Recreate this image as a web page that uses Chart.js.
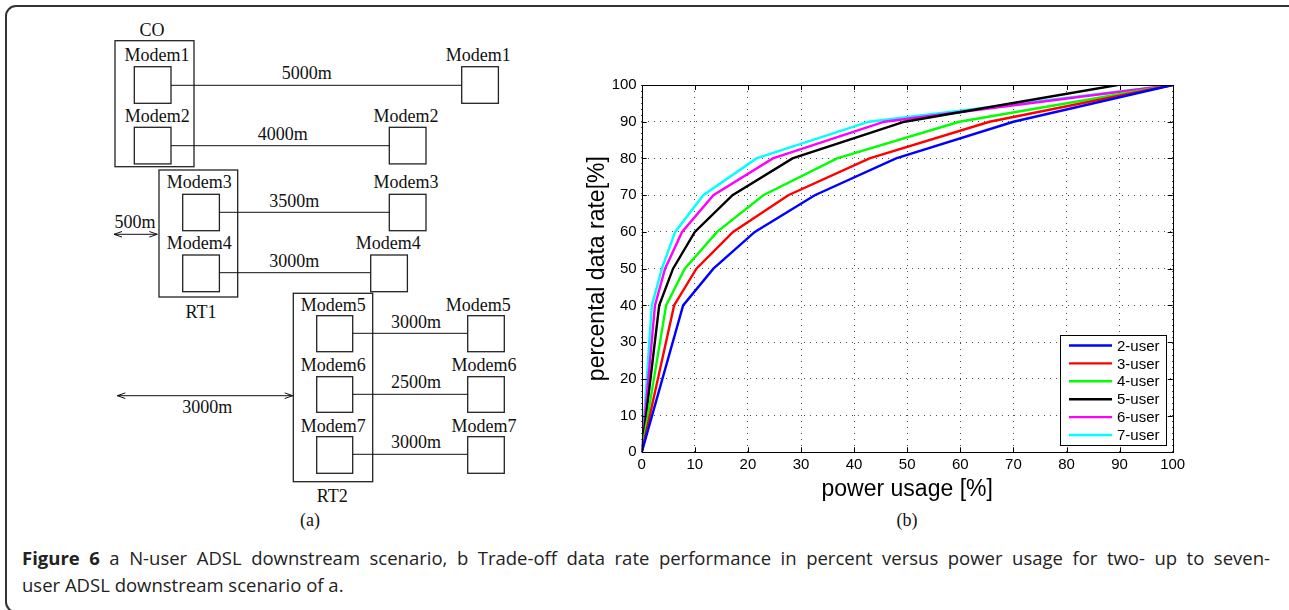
<!DOCTYPE html>
<html><head><meta charset="utf-8">
<script src="https://cdn.jsdelivr.net/npm/chart.js@4.4.1/dist/chart.umd.min.js"></script>
<style>
html,body{margin:0;padding:0;background:#fff;width:1289px;height:610px;overflow:hidden;}
body{position:relative;}
#frame{position:absolute;left:5px;top:5px;width:1400px;height:604px;border:2px solid #333;border-radius:11px;box-sizing:content-box;}
#diagram{position:absolute;left:0;top:0;}
#chartBox{position:absolute;left:560px;top:70px;width:630px;height:433px;}
.sub{position:absolute;font-family:"Liberation Serif","Times New Roman",serif;font-size:18px;color:#111;transform:translateX(-50%);}
.cap{position:absolute;left:22px;width:1248px;font-family:"Open Sans","Noto Sans",sans-serif;font-size:18.5px;line-height:27px;color:#222;white-space:nowrap;}
#cap1{top:544px;text-align:justify;text-align-last:justify;white-space:normal;}
#cap2{top:571px;}
</style>
</head><body>
<div id="frame"></div>
<svg id="diagram" width="560" height="540" xmlns="http://www.w3.org/2000/svg" font-family="Liberation Serif, Times New Roman, serif" font-size="18" fill="#111">
 <g fill="none" stroke="#222" stroke-width="1.3">
  <rect x="115" y="40.7" width="79" height="126"/>
  <rect x="134.3" y="66.7" width="36.7" height="36.6"/>
  <rect x="461.7" y="66.7" width="36.7" height="36.6"/>
  <rect x="134.3" y="127.3" width="36.7" height="36.6"/>
  <rect x="389.3" y="127.3" width="36.7" height="36.6"/>
  <rect x="159" y="170" width="78.7" height="127"/>
  <rect x="182.7" y="194.3" width="36.7" height="36.4"/>
  <rect x="389.3" y="194.3" width="36.7" height="36.4"/>
  <rect x="182.7" y="255" width="36.7" height="36.7"/>
  <rect x="370.7" y="255" width="36.7" height="36.7"/>
  <rect x="293.3" y="293.3" width="79.4" height="188.4"/>
  <rect x="316.7" y="315.7" width="36" height="36"/>
  <rect x="467.7" y="315.7" width="36.6" height="36"/>
  <rect x="316.7" y="376.7" width="36" height="35.6"/>
  <rect x="467.7" y="376.7" width="36.6" height="35.6"/>
  <rect x="316.7" y="436.7" width="36" height="36.6"/>
  <rect x="467.7" y="436.7" width="36.6" height="36.6"/>
 </g>
 <g stroke="#111" stroke-width="1">
  <line x1="171" y1="85.3" x2="461.7" y2="85.3"/>
  <line x1="171" y1="145.7" x2="389.3" y2="145.7"/>
  <line x1="219.3" y1="212.3" x2="389.3" y2="212.3"/>
  <line x1="219.3" y1="272.7" x2="370.7" y2="272.7"/>
  <line x1="352.7" y1="333.3" x2="467.7" y2="333.3"/>
  <line x1="352.7" y1="394.3" x2="467.7" y2="394.3"/>
  <line x1="352.7" y1="454.3" x2="467.7" y2="454.3"/>
  <line x1="114" y1="234.3" x2="157.3" y2="234.3"/>
  <polyline fill="none" points="122,231.5 114,234.3 122,237.1"/>
  <polyline fill="none" points="149.3,231.5 157.3,234.3 149.3,237.1"/>
  <line x1="117.3" y1="395.7" x2="292.7" y2="395.7"/>
  <polyline fill="none" points="125.3,392.9 117.3,395.7 125.3,398.5"/>
  <polyline fill="none" points="284.7,392.9 292.7,395.7 284.7,398.5"/>
 </g>
 <g text-anchor="middle" stroke="none">
  <text x="152" y="36">CO</text>
  <text x="157" y="60.7">Modem1</text>
  <text x="478.3" y="60.7">Modem1</text>
  <text x="306.7" y="79">5000m</text>
  <text x="157.3" y="121.7">Modem2</text>
  <text x="406" y="121.7">Modem2</text>
  <text x="282.7" y="140">4000m</text>
  <text x="199.3" y="188.3">Modem3</text>
  <text x="406" y="188.3">Modem3</text>
  <text x="294.3" y="206.7">3500m</text>
  <text x="135" y="228.3">500m</text>
  <text x="199.3" y="249">Modem4</text>
  <text x="388.3" y="249">Modem4</text>
  <text x="294.3" y="266.7">3000m</text>
  <text x="201" y="317.7">RT1</text>
  <text x="333.3" y="310.7">Modem5</text>
  <text x="478.3" y="310.7">Modem5</text>
  <text x="416" y="328.3">3000m</text>
  <text x="333.3" y="370.7">Modem6</text>
  <text x="484" y="370.7">Modem6</text>
  <text x="416" y="388.3">2500m</text>
  <text x="207.3" y="413.3">3000m</text>
  <text x="333.3" y="431.7">Modem7</text>
  <text x="484" y="431.7">Modem7</text>
  <text x="416" y="448.3">3000m</text>
  <text x="332.3" y="501.7">RT2</text>
 </g>
</svg>
<div class="sub" style="left:310px;top:510px;">(a)</div>
<div class="sub" style="left:907px;top:510px;">(b)</div>
<div id="chartBox"><canvas id="c" width="630" height="433"></canvas></div>
<div class="cap" id="cap1"><b>Figure 6</b> a N-user ADSL downstream scenario, b Trade-off data rate performance in percent versus power usage for two- up to seven-</div>
<div class="cap" id="cap2">user ADSL downstream scenario of a.</div>
<script>
// Data: percental data rate levels and the power usage [%] at which each curve reaches them
const rateLevels = [0, 40, 50, 60, 70, 80, 90, 100];
const power2user = [0, 7.8, 13.5, 21.3, 32.6, 47.9, 70.0, 100];
const power3user = [0, 6.1, 10.3, 17.2, 27.6, 42.9, 65.5, 100];
const power4user = [0, 4.6, 8.1, 14.2, 22.9, 36.8, 59.8, 100];
const power5user = [0, 3.3, 5.9, 10.0, 17.1, 28.4, 49.5, 89.6];
const power6user = [0, 2.5, 4.4, 7.6, 13.5, 24.7, 45.7, 100];
const power7user = [0, 1.9, 3.8, 6.3, 11.6, 21.6, 42.8, 100];
const seriesNames = ['2-user', '3-user', '4-user', '5-user', '6-user', '7-user'];
const seriesColors = ['#0000ff', '#ff0000', '#00ff00', '#000000', '#ff00ff', '#00ffff'];
const xTitle = 'power usage [%]';
const yTitle = 'percental data rate[%]';

const allPower = [power2user, power3user, power4user, power5user, power6user, power7user];
const datasets = allPower.map((p, i) => ({
  label: seriesNames[i],
  data: p.map((x, j) => ({x: x, y: rateLevels[j]})),
  borderColor: seriesColors[i],
  backgroundColor: seriesColors[i],
  borderWidth: 2.4,
  pointRadius: 0,
  tension: 0,
  fill: false,
  showLine: true
}));

const axesBox = {
  id: 'axesBox',
  afterDatasetsDraw(chart) {
    const {ctx, chartArea: a, scales} = chart;
    ctx.save();
    ctx.strokeStyle = '#000';
    ctx.lineWidth = 1;
    ctx.strokeRect(Math.round(a.left) + 0.5, Math.round(a.top) + 0.5, Math.round(a.right - a.left), Math.round(a.bottom - a.top));
    const tl = 5;
    ctx.beginPath();
    scales.x.ticks.forEach(t => {
      const px = Math.round(scales.x.getPixelForValue(t.value)) + 0.5;
      ctx.moveTo(px, a.bottom); ctx.lineTo(px, a.bottom - tl);
      ctx.moveTo(px, a.top); ctx.lineTo(px, a.top + tl);
    });
    scales.y.ticks.forEach(t => {
      const py = Math.round(scales.y.getPixelForValue(t.value)) + 0.5;
      ctx.moveTo(a.left, py); ctx.lineTo(a.left + tl, py);
      ctx.moveTo(a.right, py); ctx.lineTo(a.right - tl, py);
    });
    ctx.stroke();
    ctx.restore();
  }
};

const boxLegend = {
  id: 'boxLegend',
  afterDraw(chart) {
    const {ctx, chartArea: a} = chart;
    const w = 106, h = 110;
    const x0 = Math.round(a.right - 6.7 - w), y0 = Math.round(a.bottom - 7.3 - h);
    ctx.save();
    ctx.fillStyle = '#fff';
    ctx.fillRect(x0, y0, w, h);
    ctx.strokeStyle = '#000';
    ctx.lineWidth = 1;
    ctx.strokeRect(x0 + 0.5, y0 + 0.5, w, h);
    ctx.font = '15px "Liberation Sans", Arial, sans-serif';
    ctx.textBaseline = 'middle';
    ctx.textAlign = 'left';
    chart.data.datasets.forEach((ds, i) => {
      const y = y0 + 10.5 + i * 17.9;
      ctx.strokeStyle = ds.borderColor;
      ctx.lineWidth = 2.4;
      ctx.beginPath();
      ctx.moveTo(x0 + 9, y); ctx.lineTo(x0 + 52, y);
      ctx.stroke();
      ctx.fillStyle = '#000';
      ctx.fillText(ds.label, x0 + 57, y + 1);
    });
    ctx.restore();
  }
};

const tickFont = {family: '"Liberation Sans", Arial, sans-serif', size: 15};
const titleFont = {family: '"Liberation Sans", Arial, sans-serif', size: 23};

new Chart(document.getElementById('c'), {
  type: 'scatter',
  data: {datasets: datasets},
  options: {
    responsive: false,
    animation: false,
    devicePixelRatio: 1,
    layout: {padding: {top: 15, right: 17.3, left: 0, bottom: 0}},
    plugins: {legend: {display: false}, tooltip: {enabled: false}},
    scales: {
      x: {
        type: 'linear', min: 0, max: 100,
        ticks: {stepSize: 10, font: tickFont, color: '#000', padding: 4, maxRotation: 0},
        grid: {color: 'rgba(0,0,0,0.7)', lineWidth: 1, drawTicks: false},
        border: {display: false, dash: [1, 5]},
        title: {display: true, text: xTitle, font: titleFont, color: '#000', padding: {top: 0, bottom: 0}},
        afterFit(s) { s.height = 50.7; }
      },
      y: {
        type: 'linear', min: 0, max: 100,
        ticks: {stepSize: 10, font: tickFont, color: '#000', padding: 5},
        grid: {color: 'rgba(0,0,0,0.7)', lineWidth: 1, drawTicks: false},
        border: {display: false, dash: [1, 5]},
        title: {display: true, text: yTitle, font: titleFont, color: '#000', padding: {top: 24, bottom: 0}},
        afterFit(s) { s.width = 81.7; }
      }
    }
  },
  plugins: [axesBox, boxLegend]
});
</script>
</body></html>
